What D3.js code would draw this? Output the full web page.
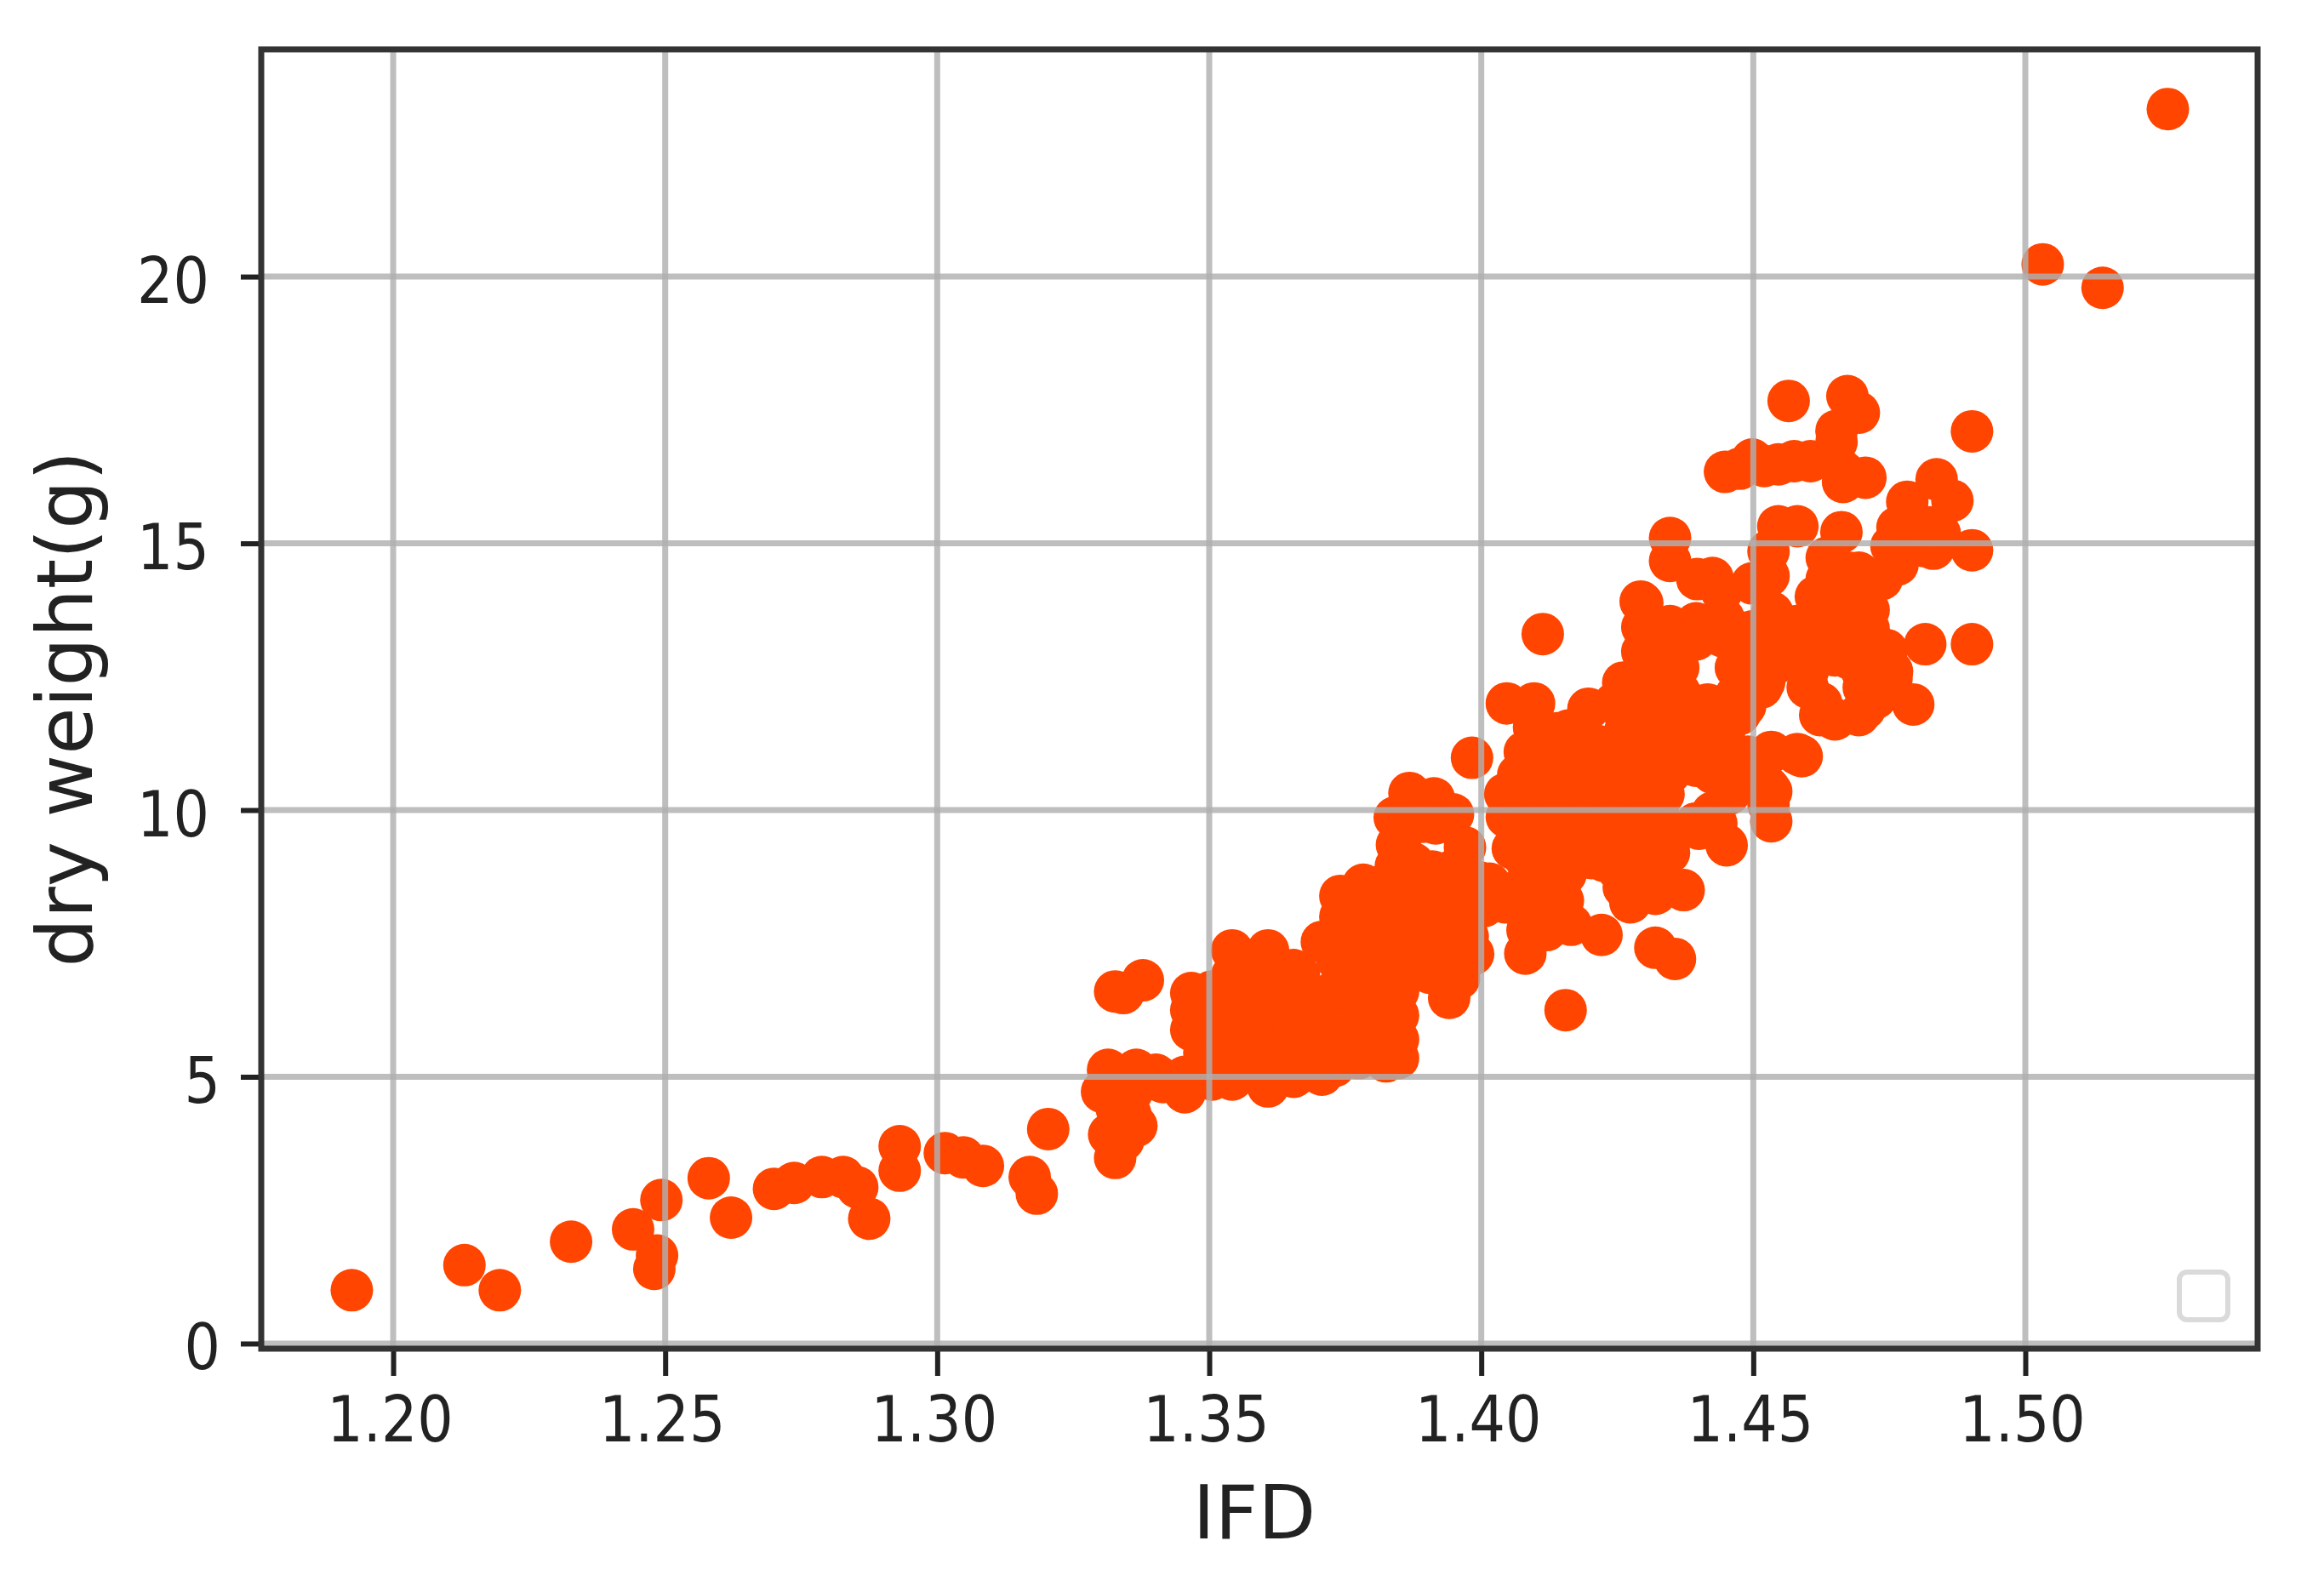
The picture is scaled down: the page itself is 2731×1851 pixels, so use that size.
<!DOCTYPE html>
<html>
<head>
<meta charset="utf-8">
<script src="https://cdn.jsdelivr.net/npm/d3@7/dist/d3.min.js"></script>
<style>
html,body{margin:0;padding:0;background:#fff;}
svg{display:block;}
</style>
</head>
<body>
<svg id="chart" width="2731" height="1851"></svg>
<script>
// [IFD, dry weight (g)]
const tailSamples = [
 [1.1924,1.0],[1.2131,1.47],[1.2196,1.0],[1.2327,1.91],[1.2441,2.14],[1.2493,2.69],[1.248,1.4],[1.2485,1.65],
 [1.258,3.1],[1.2621,2.36],[1.27,2.9],[1.2737,3.01],[1.2788,3.12],[1.2827,3.12],[1.2853,2.93],[1.2875,2.34],
 [1.2931,3.7],[1.2931,3.24],[1.3014,3.57],[1.3048,3.49],[1.3084,3.33],[1.3204,4.02],[1.317,3.12],[1.3183,2.81]
];
const lowerBody = [
 [1.3314,5.13],[1.3366,5.13],[1.3303,4.72],[1.3358,4.72],[1.3327,3.48],[1.3316,3.92],[1.3342,3.81],[1.3366,4.08],
 [1.333,4.4],[1.3355,4.3],[1.3402,5.04],[1.3415,4.9],[1.3455,4.71],[1.3455,5.0],[1.3505,4.95],
 [1.3378,6.81],[1.3327,6.6],[1.3342,6.57],[1.3467,6.57],[1.3467,6.25],[1.3467,5.88],[1.3491,5.45],
 [1.3505,6.6],[1.3505,6.1],[1.3505,5.7],[1.3505,5.25],
 [1.3542,7.37],[1.3542,6.9],[1.3542,6.4],[1.3542,5.9],[1.3542,5.4],[1.3542,4.95],
 [1.3575,7.1],[1.3575,6.6],[1.3575,6.1],[1.3575,5.6],[1.3575,5.15],
 [1.3608,7.37],[1.3608,6.9],[1.3608,6.4],[1.3608,5.9],[1.3608,5.4],[1.3608,4.82],
 [1.363,6.65],[1.363,6.15],[1.363,5.65],[1.363,5.15],
 [1.3655,7.0],[1.3655,6.5],[1.3655,6.0],[1.3655,5.5],[1.3655,5.0],
 [1.3675,6.25],[1.3675,5.75],[1.3675,5.3],
 [1.3707,7.53],[1.3707,6.25],[1.3707,5.8],[1.3707,5.04],[1.3665,6.9],
 [1.373,6.6],[1.373,6.1],[1.373,5.6],[1.373,5.2],[1.3735,7.2],
 [1.3741,8.39],[1.3741,8.0],[1.3741,7.5],[1.3755,6.9],[1.3755,6.4],[1.3755,5.9],[1.3755,5.4],
 [1.3765,8.35],[1.3765,7.8],[1.3785,7.2],[1.3785,6.75],[1.3785,6.25],[1.3785,5.75],[1.3775,5.35],
 [1.3783,8.6],[1.3783,8.1],[1.3783,7.6],[1.3783,5.4],[1.381,7.1],[1.381,6.6],[1.381,6.1],[1.381,5.6],
 [1.3805,8.55],[1.3805,8.0],[1.382,7.35],[1.3825,6.85],
 [1.3825,8.3],[1.3825,7.8],[1.3825,5.29],[1.3841,9.86],[1.3845,9.35],[1.3843,8.95],[1.3843,8.5],[1.3868,10.32],
 [1.3847,6.6],[1.3847,6.15],[1.3847,5.7],[1.3847,5.35]
];
const middleBody = [
 [1.3913,10.22],[1.3948,9.92],[1.3916,9.75],[1.389,9.78],[1.397,9.3],[1.3851,9.3],[1.391,8.85],[1.3965,8.85],[1.3965,8.35],[1.3935,8.35],
 [1.3875,8.5],[1.3875,9.0],[1.3905,8.4],[1.3945,8.85],[1.3945,8.3],[1.3945,7.8],[1.399,8.45],[1.3995,8.65],[1.4005,8.2],
 [1.3875,8.0],[1.388,7.5],[1.388,7.0],[1.3905,7.95],[1.3905,7.45],[1.3905,6.95],[1.3941,6.48],[1.3941,6.9],[1.3965,7.3],[1.397,7.75],
 [1.3959,6.84],[1.3985,7.3],[1.3975,7.63],[1.3983,10.98],[1.4047,12.0],[1.4097,12.0],[1.4097,11.55],[1.4097,11.1],
 [1.408,11.09],[1.4068,10.66],[1.4044,10.3],[1.4047,9.87],[1.4058,9.28],[1.4015,8.62],[1.4044,8.27],
 [1.408,10.1],[1.408,9.6],[1.408,9.1],[1.408,8.6],[1.408,8.1],[1.4085,7.75],[1.4081,7.31],[1.412,7.75],[1.4165,7.85],[1.4221,7.66],
 [1.4115,11.2],[1.4115,10.7],[1.4115,10.2],[1.4115,9.7],[1.4115,9.2],[1.4115,8.7],[1.4115,8.2],
 [1.4113,13.3],[1.4155,6.25],[1.4139,11.44],[1.416,11.49],[1.4165,11.0],[1.415,10.6],[1.415,10.1],[1.415,9.6],[1.415,9.1],[1.4155,8.8],[1.415,8.3],
 [1.4197,11.9],[1.4215,11.2],[1.42,10.8],[1.42,10.3],[1.42,9.8],[1.42,9.3],[1.4203,9.1],[1.4245,12.0],[1.4265,11.5],
 [1.4225,10.6],[1.4225,10.05],[1.4225,9.55],[1.4225,9.05],
 [1.425,10.9],[1.425,10.4],[1.425,9.9],[1.425,9.4],[1.425,8.9],[1.4262,8.55],[1.4274,8.27],[1.432,7.42],[1.4356,7.21],
 [1.4275,11.2],[1.4275,10.65],[1.4275,10.15],[1.4275,9.65],[1.4275,9.15],[1.4275,8.75],
 [1.43,11.4],[1.43,10.9],[1.43,10.4],[1.43,9.9],[1.43,9.4],[1.43,8.9],[1.432,8.43],[1.4372,8.5],[1.4345,9.2],[1.4345,9.5],
 [1.4325,11.65],[1.4325,11.15],[1.4325,10.65],[1.4325,9.95],[1.4325,9.7],[1.4325,8.95],[1.4325,8.7],
 [1.4335,10.3],[1.4347,10.7],[1.4347,11.2],[1.4395,9.75],[1.4432,9.75],[1.4425,9.95],[1.44,9.65],[1.4451,9.34],[1.4395,10.83],[1.4395,11.3],[1.4395,11.8],
 [1.4375,11.55],[1.4375,11.05],[1.4425,11.55],[1.4425,11.05],[1.4425,10.7],[1.449,11.0],[1.449,10.55],[1.4445,11.25],[1.4468,10.8],[1.446,11.75],
 [1.4455,10.3],[1.4455,10.55],[1.4447,11.0],[1.4447,11.5],[1.4533,9.79],[1.4533,10.35],[1.4528,10.42],[1.4528,10.1],[1.4533,11.09],[1.4581,11.05],[1.4589,11.01]
];
const upperBody = [
 [1.4261,12.39],[1.431,11.9],[1.433,12.4],[1.433,13.0],[1.4296,12.6],[1.4296,12.97],[1.4296,13.43],[1.4296,13.88],[1.4293,13.91],
 [1.434,12.85],[1.4347,13.45],[1.4347,14.67],[1.4347,15.1],[1.4397,14.33],[1.4395,13.5],[1.4395,13.2],[1.4362,12.67],[1.4365,12.2],[1.4365,13.05],[1.4365,13.3],[1.4416,11.98],
 [1.4416,13.38],[1.4425,14.35],[1.4442,14.1],[1.4445,13.6],[1.4445,13.25],[1.4468,12.67],[1.4468,12.15],[1.4473,13.0],[1.4485,11.95],[1.4475,11.8],[1.4498,13.35],[1.4498,12.95],[1.4495,12.55],
 [1.447,13.35],[1.4515,13.35],[1.4515,12.75],[1.4515,12.3],[1.452,12.4],[1.4487,12.2],
 [1.4498,14.25],[1.4535,13.7],[1.4535,13.05],[1.4545,13.4],[1.4545,12.77],[1.4555,13.4],[1.4575,12.9],[1.4575,13.2],[1.458,13.45],[1.4528,14.39],[1.4528,14.85],[1.4546,15.32],[1.4581,15.32],
 [1.46,12.3],[1.46,12.6],[1.461,13.0],[1.4625,12.0],[1.4623,11.78],[1.4606,13.45],[1.4625,12.95],[1.465,12.9],[1.465,11.7],[1.4635,14.33],[1.4635,14.73],[1.4662,15.21],
 [1.4615,14.0],[1.4635,13.9],[1.4635,13.5],[1.4655,13.45],[1.4655,13.75],[1.468,13.95],[1.4675,14.1],[1.4675,14.45],[1.4685,13.5],[1.4675,12.85],[1.47,12.6],[1.4712,13.4],[1.4715,12.6],[1.4735,12.75],
 [1.467,13.35],[1.4705,12.95],[1.4705,13.1],[1.4703,12.3],[1.4725,12.1],[1.4705,11.9],[1.4694,11.78],[1.4712,13.75],[1.4694,14.45],[1.4736,14.33],[1.4745,13.0],
 [1.4754,12.46],[1.4755,12.6],[1.4794,11.98],[1.4816,13.11],[1.4765,14.6],[1.4765,15.01],[1.4765,15.3],[1.4754,14.95],[1.4813,14.95],[1.481,15.2],[1.4825,15.3],[1.4831,14.9],[1.4843,15.18]
];
const upperEdge = [
 [1.4565,17.67],[1.4673,17.76],[1.4694,17.45],[1.4653,17.11],[1.4653,16.9],[1.4647,16.6],[1.4448,16.34],[1.4475,16.4],[1.4498,16.57],[1.452,16.45],[1.4546,16.48],[1.4575,16.54],
 [1.4605,16.54],[1.4665,16.35],[1.4665,16.15],[1.467,16.23],[1.4706,16.23],[1.4837,16.2],[1.4783,15.78],[1.4866,15.8],[1.4902,17.1],[1.4902,14.87],[1.4902,13.11]
];
const outliers = [[1.5032,20.23],[1.5142,19.79],[1.5262,23.14]];
const samples = [...tailSamples, ...lowerBody, ...middleBody, ...upperBody, ...upperEdge, ...outliers];

const xTicks = [1.20,1.25,1.30,1.35,1.40,1.45,1.50];
const yTicks = [0,5,10,15,20];
const xTitle = "IFD";
const yTitle = "dry weight(g)";

const frame = {left:307, right:2653, top:58, bottom:1585};
const x = d3.scaleLinear().domain([1.17575,1.5427]).range([frame.left,frame.right]);
const y = d3.scaleLinear().domain([-0.096,24.26]).range([frame.bottom,frame.top]);
const INK = "#222";
const svg = d3.select("#chart");
svg.append("rect").attr("width",2731).attr("height",1851).attr("fill","#fff");

// points
svg.append("g").selectAll("circle").data(samples).join("circle")
  .attr("cx",d=>x(d[0])).attr("cy",d=>y(d[1])).attr("r",25).attr("fill","#ff4500");

// grid sits above the points, translucent
const grid = svg.append("g").attr("stroke","#b0b0b0").attr("stroke-opacity",0.82).attr("stroke-width",7);
grid.selectAll("line.v").data(xTicks).join("line").attr("class","v")
  .attr("x1",d=>x(d)).attr("x2",d=>x(d)).attr("y1",frame.top).attr("y2",frame.bottom);
grid.selectAll("line.h").data(yTicks).join("line").attr("class","h")
  .attr("y1",d=>y(d)).attr("y2",d=>y(d)).attr("x1",frame.left).attr("x2",frame.right);

// empty legend box
svg.append("rect").attr("x",2561).attr("y",1495).attr("width",57).attr("height",56).attr("rx",9)
  .attr("fill","none").attr("stroke","#dadada").attr("stroke-width",6);

function styleAxis(g){
  g.select(".domain").remove();
  g.selectAll(".tick line").attr("stroke",INK).attr("stroke-width",6);
  g.selectAll(".tick text").attr("fill",INK).attr("font-family","'DejaVu Sans'").attr("font-size",75);
}
const labelSqueeze = 0.89;
const xAxis = svg.append("g").attr("transform",`translate(0,${frame.bottom})`)
  .call(d3.axisBottom(x).tickValues(xTicks).tickFormat(d3.format(".2f")).tickSize(32).tickPadding(0));
styleAxis(xAxis);
xAxis.selectAll(".tick text").attr("x",-4/labelSqueeze).attr("y",109).attr("dy",0).attr("transform",`scale(${labelSqueeze},1)`);

const yAxis = svg.append("g").attr("transform",`translate(${frame.left},0)`)
  .call(d3.axisLeft(y).tickValues(yTicks).tickFormat(d3.format("d")).tickSize(24).tickPadding(0));
styleAxis(yAxis);
yAxis.selectAll(".tick text")
  .attr("x",d=>(d<10?-48:-61)/labelSqueeze)
  .attr("dy",30).attr("transform",`scale(${labelSqueeze},1)`);

// frame
svg.append("rect").attr("x",frame.left).attr("y",frame.top)
  .attr("width",frame.right-frame.left).attr("height",frame.bottom-frame.top)
  .attr("fill","none").attr("stroke","#333").attr("stroke-width",7);

svg.append("text").text(xTitle).attr("x",1474).attr("y",1808).attr("text-anchor","middle")
  .attr("font-family","'DejaVu Sans'").attr("font-size",88).attr("fill",INK);
svg.append("text").text(yTitle).attr("transform","translate(108,833) rotate(-90)").attr("text-anchor","middle")
  .attr("font-family","'DejaVu Sans'").attr("font-size",90).attr("fill",INK);
</script>
</body>
</html>
